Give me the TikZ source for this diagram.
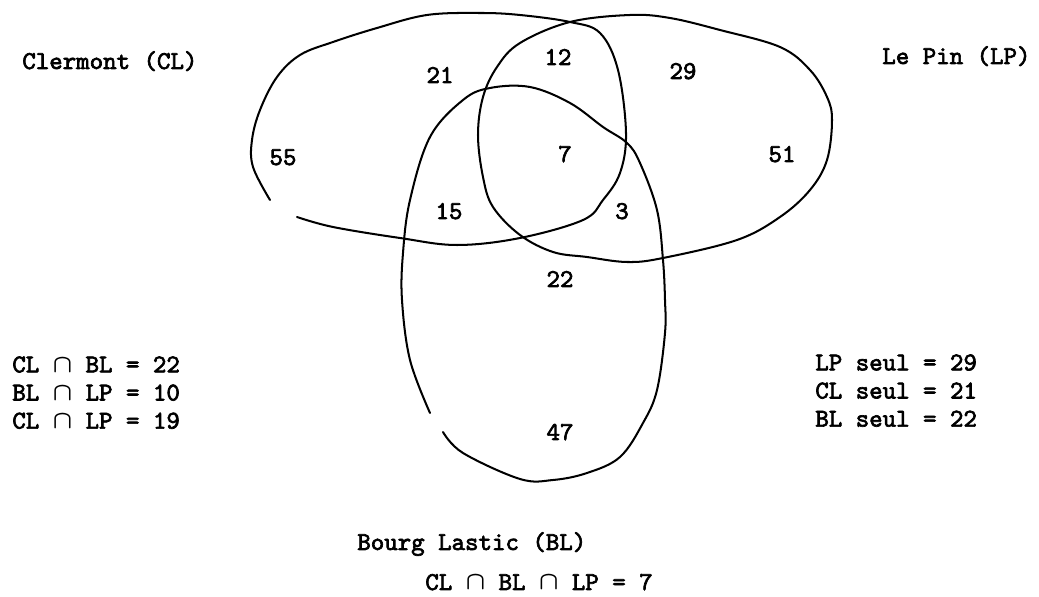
\documentclass[tikz,border=0pt]{standalone}
\usepackage{amsmath}
\usepackage{fontspec}
\usepackage{tikz}
\usetikzlibrary{positioning}

\newfontfamily\vennfont{lmmono10-regular.otf}[FakeBold=2.6]
\newcommand{\inter}{\ensuremath{\boldsymbol{\cap}}}

\begin{document}
\begin{tikzpicture}[
    x=0.02cm, y=-0.02cm,
    set/.style={draw=black, line width=1.15pt, line join=round, line cap=round},
    txt/.style={font=\vennfont\fontsize{14.6}{17}\selectfont, inner sep=0pt, anchor=base west},
    count/.style={txt, anchor=base},
    row/.style={txt, text height=11pt, text depth=4.6pt, anchor=north west}
]
\useasboundingbox (0,0) rectangle (1039,597);

% the three sets
\draw[set] plot[smooth, tension=0.6] coordinates {(297,217) (333,227) (400,238) (457,245) (520,238) (583,220) (603,200) (620,173) (626,133) (618,70) (600,33) (570,22) (520,15) (480,13) (427,15) (377,28) (333,42) (300,55) (277,77) (260,110) (252,140) (253,167) (270,200)};
\draw[set] plot[smooth cycle, tension=0.6] coordinates {(478,135) (483,97) (497,67) (520,43) (570,22) (630,15) (670,18) (720,30) (780,47) (810,70) (827,97) (832,120) (827,160) (810,190) (780,217) (737,240) (663,258) (627,262) (587,257) (553,252) (520,235) (493,207) (483,177)};
\draw[set] plot[smooth, tension=0.6] coordinates {(443,432) (463,453) (520,479) (553,480) (587,473) (620,457) (643,423) (657,390) (665,333) (665,300) (663,260) (657,210) (640,163) (627,143) (603,127) (570,103) (530,87) (490,88) (463,100) (430,137) (410,200) (403,253) (402,300) (410,360) (430,413)};

% set names
\node[txt] (cl) at (22,69) {Clermont (CL)};
\node[txt] (lp) at (882,64) {Le Pin (LP)};
\node[txt] (bl) at (357,550) {Bourg Lastic (BL)};

% region counts
\node[count] (n21) at (440,83) {21};
\node[count] (n12) at (558,65) {12};
\node[count] (n29) at (683,79) {29};
\node[count] (n55) at (283,165) {55};
\node[count] (n7) at (565,162) {7};
\node[count] (n51) at (782,162) {51};
\node[count] (n15) at (449,219) {15};
\node[count] (n3) at (622,219) {3};
\node[count] (n22) at (560,287) {22};
\node[count] (n47) at (560,440) {47};

% intersections
\node[row] (clbl) at (12,352.7) {CL \inter{} BL = 22};
\node[row, below=0pt of clbl.south west, anchor=north west] (bllp) {BL \inter{} LP = 10};
\node[row, below=0pt of bllp.south west, anchor=north west] (cllp) {CL \inter{} LP = 19};

% sets alone
\node[row] (lpseul) at (815,350.7) {LP seul = 29};
\node[row, below=0pt of lpseul.south west, anchor=north west] (clseul) {CL seul = 21};
\node[row, below=0pt of clseul.south west, anchor=north west] (blseul) {BL seul = 22};

\node[txt] (all) at (425,590) {CL \inter{} BL \inter{} LP = 7};
\end{tikzpicture}
\end{document}
